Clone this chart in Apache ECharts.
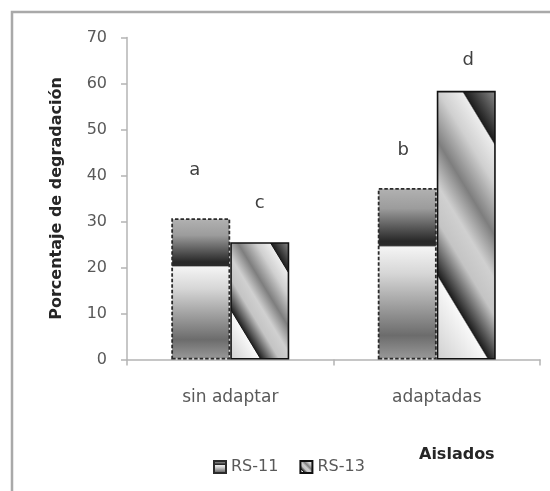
<!DOCTYPE html>
<html>
<head>
<meta charset="utf-8">
<script src="https://cdn.jsdelivr.net/npm/echarts@6/dist/echarts.min.js"></script>
<style>
  html, body { margin: 0; padding: 0; background: #ffffff; }
  #chart { width: 550px; height: 491px; }
</style>
</head>
<body>
<div id="chart"></div>
<script>
// ---- data ----
const categories = ['sin adaptar', 'adaptadas'];
const seriesNames = ['RS-11', 'RS-13'];
const rs11 = [30.7, 37.3];
const rs13 = [25.5, 58.4];
const rs11Letters = ['a', 'b'];
const rs13Letters = ['c', 'd'];
const yMin = 0, yMax = 70, yStep = 10;

// ---- style ----
const FONT = '"DejaVu Sans", "Liberation Sans", sans-serif';
const TEXT = '#595959';
const AXIS = '#b4b4b4';
const BAR_W = 59;
// letter placement: [x shift, lift above bar top]
const rs11LetterPos = [[-6, 39], [-4, 29]];
const rs13LetterPos = [[0, 30], [2, 22]];

// vertical banded fill for RS-11
const bandStops = [
  { offset: 0.00, color: '#b2b2b2' },
  { offset: 0.12, color: '#9c9c9c' },
  { offset: 0.31, color: '#282828' },
  { offset: 0.335, color: '#2a2a2a' },
  { offset: 0.345, color: '#f4f4f4' },
  { offset: 0.50, color: '#d6d6d6' },
  { offset: 0.86, color: '#6c6c6c' },
  { offset: 1.00, color: '#9a9a9a' }
];
// diagonal striped fill for RS-13 (from top-right corner to bottom-left corner)
const stripeStops = [
  { offset: 0.00, color: '#8c8c8c' },
  { offset: 0.148, color: '#1c1c1c' },
  { offset: 0.155, color: '#ececec' },
  { offset: 0.26, color: '#d0d0d0' },
  { offset: 0.40, color: '#7e7e7e' },
  { offset: 0.52, color: '#d0d0d0' },
  { offset: 0.62, color: '#c4c4c4' },
  { offset: 0.765, color: '#1c1c1c' },
  { offset: 0.772, color: '#f8f8f8' },
  { offset: 1.00, color: '#cfcfcf' }
];

const chart = echarts.init(document.getElementById('chart'), null, { renderer: 'canvas' });

function letterLabel(letters, pos) {
  return (i) => ({
    show: true,
    position: 'top',
    distance: pos[i][1],
    offset: [pos[i][0], 0],
    formatter: letters[i],
    fontFamily: FONT,
    fontSize: 18,
    color: '#404040'
  });
}
const lab11 = letterLabel(rs11Letters, rs11LetterPos);
const lab13 = letterLabel(rs13Letters, rs13LetterPos);

const option = {
  animation: false,
  backgroundColor: '#ffffff',
  textStyle: { fontFamily: FONT },
  grid: { left: 127, right: 10, top: 37.5, bottom: 131.5, containLabel: false },
  legend: {
    data: seriesNames,
    left: 213,
    top: 459,
    padding: 0,
    icon: 'rect',
    itemWidth: 12,
    itemHeight: 12,
    itemGap: 21,
    textStyle: { fontFamily: FONT, fontSize: 16, color: TEXT }
  },
  xAxis: {
    type: 'category',
    data: categories,
    axisLine: { show: true, lineStyle: { color: AXIS, width: 1.5 } },
    axisTick: { show: true, length: 6, lineStyle: { color: AXIS, width: 1.5 } },
    axisLabel: { fontFamily: FONT, fontSize: 17, color: TEXT, margin: 30 },
    splitLine: { show: false }
  },
  yAxis: {
    type: 'value',
    min: yMin,
    max: yMax,
    interval: yStep,
    name: 'Porcentaje de degradación',
    nameLocation: 'middle',
    nameGap: 62,
    nameTextStyle: { fontFamily: FONT, fontSize: 16, fontWeight: 'bold', color: '#262626' },
    axisLine: { show: true, lineStyle: { color: AXIS, width: 1.5 } },
    axisTick: { show: true, length: 6, lineStyle: { color: AXIS, width: 1.5 } },
    axisLabel: { fontFamily: FONT, fontSize: 16, color: TEXT, margin: 20 },
    splitLine: { show: false }
  },
  graphic: [
    {
      type: 'rect',
      z: -10,
      shape: { x: 12, y: 12, width: 700, height: 700 },
      style: { fill: 'none', stroke: '#a9a9a9', lineWidth: 2.5 }
    },
    {
      type: 'text',
      left: 419,
      top: 447,
      style: { text: 'Aislados', fontFamily: FONT, fontSize: 16, fontWeight: 'bold', fill: '#262626' }
    }
  ],
  series: [
    {
      name: seriesNames[0],
      type: 'bar',
      barWidth: BAR_W,
      barGap: '0%',
      itemStyle: {
        color: new echarts.graphic.LinearGradient(0, 0, 0, 1, bandStops),
        borderColor: '#2b2b2b',
        borderWidth: 1.8,
        borderType: [3.5, 2]
      },
      data: rs11.map((v, i) => ({ value: v, label: lab11(i) }))
    },
    {
      name: seriesNames[1],
      type: 'bar',
      barWidth: BAR_W,
      barGap: '0%',
      itemStyle: {
        color: new echarts.graphic.LinearGradient(1, 0, 0, 1, stripeStops),
        borderColor: '#111111',
        borderWidth: 1.6
      },
      data: rs13.map((v, i) => ({ value: v, label: lab13(i) }))
    }
  ]
};

chart.setOption(option);

// Give each RS-13 bar a stripe gradient at a fixed screen angle,
// spanning from the bar's top-right corner to its bottom-left corner.
const dir = [-0.855, 0.518];
function stripeFill(i, v) {
  const cx = chart.convertToPixel({ xAxisIndex: 0 }, i);
  const top = chart.convertToPixel({ yAxisIndex: 0 }, v);
  const base = chart.convertToPixel({ yAxisIndex: 0 }, 0);
  const tx = cx + BAR_W, ty = top;
  const ext = (cx - tx) * dir[0] + (base - ty) * dir[1];
  return new echarts.graphic.LinearGradient(tx, ty, tx + dir[0] * ext, ty + dir[1] * ext, stripeStops, true);
}
chart.setOption({
  series: [
    {},
    { data: rs13.map((v, i) => ({ value: v, label: lab13(i), itemStyle: { color: stripeFill(i, v) } })) }
  ]
});
</script>
</body>
</html>
